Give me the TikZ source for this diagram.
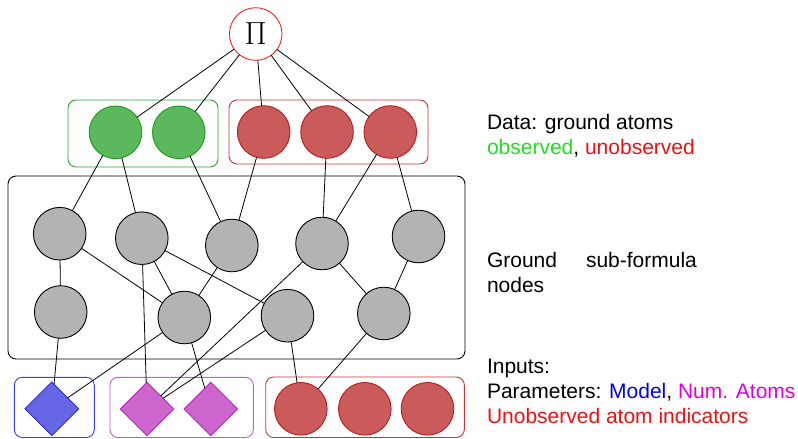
\documentclass[tikz,border=0pt]{standalone}
\usepackage{fontspec}
\newfontfamily\labelfont{Liberation Sans}
\usetikzlibrary{shapes.geometric}

% fills and outlines
\definecolor{obsfill}{HTML}{5CB85C}
\definecolor{obsline}{HTML}{1E9A1E}
\definecolor{obsbox}{HTML}{2AAA2A}
\definecolor{unfill}{HTML}{CB5A5A}
\definecolor{unline}{HTML}{B81C1C}
\definecolor{unbox}{HTML}{C83434}
\definecolor{subfill}{HTML}{B3B3B3}
\definecolor{modfill}{HTML}{6666E6}
\definecolor{modline}{HTML}{2A2AD8}
\definecolor{modbox}{HTML}{3C3CEA}
\definecolor{numfill}{HTML}{CC66CC}
\definecolor{numline}{HTML}{B02CC0}
\definecolor{numbox}{HTML}{CC55DD}
\definecolor{pired}{HTML}{FF2222}
% label colours
\definecolor{obstext}{HTML}{22DD22}
\definecolor{untext}{HTML}{EE1111}
\definecolor{modtext}{HTML}{0000EE}
\definecolor{numtext}{HTML}{DD00DD}

\begin{document}
\begin{tikzpicture}[x=1pt,y=-1pt,
  every node/.style={inner sep=0pt, outer sep=0pt},
  link/.style={draw=black, line width=0.8pt},
  grp/.style={rounded corners=8pt, line width=0.9pt},
  ball/.style={circle, minimum size=52.6pt, line width=0.9pt},
  subf/.style={ball, draw=black, fill=subfill},
  obs/.style={ball, draw=obsline, fill=obsfill},
  unobs/.style={ball, draw=unline, fill=unfill},
  param/.style={diamond, aspect=1, minimum width=53.6pt, minimum height=53.6pt, line width=0.9pt},
  txt/.style={anchor=base west, font=\labelfont\fontsize{21}{25}\selectfont}]

\useasboundingbox (0,0) rectangle (798,439);

% group frames
\draw[grp, draw=obsbox] (68,100) rectangle (218,167);
\draw[grp, draw=unbox]  (229,100) rectangle (428,164);
\draw[grp, draw=black]  (8,176) rectangle (465,359);
\draw[grp, draw=modbox] (14.3,377.3) rectangle (94.3,437.5);
\draw[grp, draw=numbox] (110,377.3) rectangle (253.3,437.5);
\draw[grp, draw=unbox]  (265.7,377) rectangle (464.3,437.5);

% output node
\node[ball, draw=pired, fill=white] (pi) at (255.7,34) {\fontsize{32}{32}\selectfont Π};

% ground atoms
\node[obs] (o1) at (115.5,132.3) {};
\node[obs] (o2) at (178.8,132.3) {};
\node[unobs] (u1) at (263.7,132) {};
\node[unobs] (u2) at (327,132) {};
\node[unobs] (u3) at (390.3,132) {};

% sub-formula nodes, upper row
\node[subf] (g1) at (59.7,233.7) {};
\node[subf] (g2) at (141.8,238.2) {};
\node[subf] (g3) at (231.8,245.5) {};
\node[subf] (g4) at (322,243.5) {};
\node[subf] (g5) at (418.5,236.5) {};
% sub-formula nodes, lower row
\node[subf] (h1) at (60.7,312) {};
\node[subf] (h2) at (184.3,317.5) {};
\node[subf] (h3) at (287.5,315.7) {};
\node[subf] (h4) at (383.8,313.5) {};

% inputs
\node[param, draw=modline, fill=modfill] (m0) at (51.8,408.8) {};
\node[param, draw=numline, fill=numfill] (n1) at (147,409) {};
\node[param, draw=numline, fill=numfill] (n2) at (210.8,409) {};
\node[unobs] (i1) at (300.8,408.8) {};
\node[unobs] (i2) at (364.8,408.8) {};
\node[unobs] (i3) at (427.5,408.8) {};

% connections
\foreach \a/\b in {pi/o1, pi/o2, pi/u1, pi/u2, pi/u3,
                   o1/g1, o1/g2, o2/g3, u1/g3, u2/g4, u3/g4, u3/g5,
                   g1/h1, g1/h2, g2/h2, g2/h3, g2/n1, g3/h2, g4/h4, g4/n1, g5/h4,
                   h1/m0, h2/m0, h2/n2, h3/n1, h3/i1, h4/i1}
  \draw[link] (\a) -- (\b);

% legend
\node[txt] (t1) at (487,129) {Data: ground atoms};
\node[txt] (t2) at (487,154) {\textcolor{obstext}{observed}, \textcolor{untext}{unobserved}};
\node[txt] (t3) at (487,267) {Ground\hspace{29pt}sub-formula};
\node[txt] (t4) at (487,292) {nodes};
\node[txt] (t5) at (487,373) {Inputs:};
\node[txt] (t6) at (487,398) {Parameters: \textcolor{modtext}{Model}, \textcolor{numtext}{Num. Atoms}};
\node[txt] (t7) at (487,423) {\textcolor{untext}{Unobserved atom indicators}};
\end{tikzpicture}
\end{document}
